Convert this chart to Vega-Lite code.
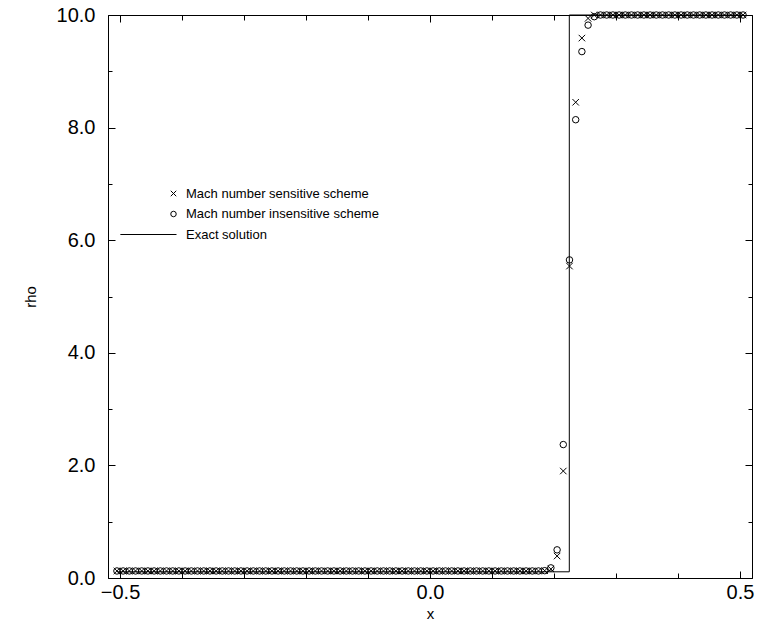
{
  "$schema": "https://vega.github.io/schema/vega-lite/v6.json",
  "width": 644,
  "height": 563,
  "autosize": {"type": "none"},
  "padding": {"left": 108, "top": 15, "right": 9, "bottom": 48},
  "background": "white",
  "config": {
    "font": "Liberation Sans",
    "view": {"stroke": "black", "strokeWidth": 1},
    "axis": {
      "domain": false,
      "grid": false,
      "tickColor": "black",
      "tickWidth": 1,
      "labelColor": "black",
      "labelFont": "Liberation Sans",
      "labelFontSize": 20,
      "titleColor": "black",
      "titleFont": "Liberation Sans",
      "titleFontSize": 15,
      "titleFontWeight": "normal"
    }
  },
  "datasets": {
    "num": [
      {"x": -0.505, "s": 0.125, "i": 0.125}, {"x": -0.495, "s": 0.125, "i": 0.125}, {"x": -0.485, "s": 0.125, "i": 0.125}, {"x": -0.475, "s": 0.125, "i": 0.125}, {"x": -0.465, "s": 0.125, "i": 0.125},
      {"x": -0.455, "s": 0.125, "i": 0.125}, {"x": -0.445, "s": 0.125, "i": 0.125}, {"x": -0.435, "s": 0.125, "i": 0.125}, {"x": -0.425, "s": 0.125, "i": 0.125}, {"x": -0.415, "s": 0.125, "i": 0.125},
      {"x": -0.405, "s": 0.125, "i": 0.125}, {"x": -0.395, "s": 0.125, "i": 0.125}, {"x": -0.385, "s": 0.125, "i": 0.125}, {"x": -0.375, "s": 0.125, "i": 0.125}, {"x": -0.365, "s": 0.125, "i": 0.125},
      {"x": -0.355, "s": 0.125, "i": 0.125}, {"x": -0.345, "s": 0.125, "i": 0.125}, {"x": -0.335, "s": 0.125, "i": 0.125}, {"x": -0.325, "s": 0.125, "i": 0.125}, {"x": -0.315, "s": 0.125, "i": 0.125},
      {"x": -0.305, "s": 0.125, "i": 0.125}, {"x": -0.295, "s": 0.125, "i": 0.125}, {"x": -0.285, "s": 0.125, "i": 0.125}, {"x": -0.275, "s": 0.125, "i": 0.125}, {"x": -0.265, "s": 0.125, "i": 0.125},
      {"x": -0.255, "s": 0.125, "i": 0.125}, {"x": -0.245, "s": 0.125, "i": 0.125}, {"x": -0.235, "s": 0.125, "i": 0.125}, {"x": -0.225, "s": 0.125, "i": 0.125}, {"x": -0.215, "s": 0.125, "i": 0.125},
      {"x": -0.205, "s": 0.125, "i": 0.125}, {"x": -0.195, "s": 0.125, "i": 0.125}, {"x": -0.185, "s": 0.125, "i": 0.125}, {"x": -0.175, "s": 0.125, "i": 0.125}, {"x": -0.165, "s": 0.125, "i": 0.125},
      {"x": -0.155, "s": 0.125, "i": 0.125}, {"x": -0.145, "s": 0.125, "i": 0.125}, {"x": -0.135, "s": 0.125, "i": 0.125}, {"x": -0.125, "s": 0.125, "i": 0.125}, {"x": -0.115, "s": 0.125, "i": 0.125},
      {"x": -0.105, "s": 0.125, "i": 0.125}, {"x": -0.095, "s": 0.125, "i": 0.125}, {"x": -0.085, "s": 0.125, "i": 0.125}, {"x": -0.075, "s": 0.125, "i": 0.125}, {"x": -0.065, "s": 0.125, "i": 0.125},
      {"x": -0.055, "s": 0.125, "i": 0.125}, {"x": -0.045, "s": 0.125, "i": 0.125}, {"x": -0.035, "s": 0.125, "i": 0.125}, {"x": -0.025, "s": 0.125, "i": 0.125}, {"x": -0.015, "s": 0.125, "i": 0.125},
      {"x": -0.005, "s": 0.125, "i": 0.125}, {"x": 0.005, "s": 0.125, "i": 0.125}, {"x": 0.015, "s": 0.125, "i": 0.125}, {"x": 0.025, "s": 0.125, "i": 0.125}, {"x": 0.035, "s": 0.125, "i": 0.125},
      {"x": 0.045, "s": 0.125, "i": 0.125}, {"x": 0.055, "s": 0.125, "i": 0.125}, {"x": 0.065, "s": 0.125, "i": 0.125}, {"x": 0.075, "s": 0.125, "i": 0.125}, {"x": 0.085, "s": 0.125, "i": 0.125},
      {"x": 0.095, "s": 0.125, "i": 0.125}, {"x": 0.105, "s": 0.125, "i": 0.125}, {"x": 0.115, "s": 0.125, "i": 0.125}, {"x": 0.125, "s": 0.125, "i": 0.125}, {"x": 0.135, "s": 0.125, "i": 0.125},
      {"x": 0.145, "s": 0.125, "i": 0.125}, {"x": 0.155, "s": 0.125, "i": 0.125}, {"x": 0.165, "s": 0.125, "i": 0.125}, {"x": 0.175, "s": 0.125, "i": 0.125}, {"x": 0.185, "s": 0.13, "i": 0.13},
      {"x": 0.195, "s": 0.16, "i": 0.18}, {"x": 0.205, "s": 0.39, "i": 0.5}, {"x": 0.215, "s": 1.9, "i": 2.37}, {"x": 0.225, "s": 5.54, "i": 5.65}, {"x": 0.235, "s": 8.45, "i": 8.14},
      {"x": 0.245, "s": 9.59, "i": 9.35}, {"x": 0.255, "s": 9.94, "i": 9.82}, {"x": 0.265, "s": 10.0, "i": 9.97}, {"x": 0.275, "s": 10.0, "i": 10.0}, {"x": 0.285, "s": 10.0, "i": 10.0},
      {"x": 0.295, "s": 10.0, "i": 10.0}, {"x": 0.305, "s": 10.0, "i": 10.0}, {"x": 0.315, "s": 10.0, "i": 10.0}, {"x": 0.325, "s": 10.0, "i": 10.0}, {"x": 0.335, "s": 10.0, "i": 10.0},
      {"x": 0.345, "s": 10.0, "i": 10.0}, {"x": 0.355, "s": 10.0, "i": 10.0}, {"x": 0.365, "s": 10.0, "i": 10.0}, {"x": 0.375, "s": 10.0, "i": 10.0}, {"x": 0.385, "s": 10.0, "i": 10.0},
      {"x": 0.395, "s": 10.0, "i": 10.0}, {"x": 0.405, "s": 10.0, "i": 10.0}, {"x": 0.415, "s": 10.0, "i": 10.0}, {"x": 0.425, "s": 10.0, "i": 10.0}, {"x": 0.435, "s": 10.0, "i": 10.0},
      {"x": 0.445, "s": 10.0, "i": 10.0}, {"x": 0.455, "s": 10.0, "i": 10.0}, {"x": 0.465, "s": 10.0, "i": 10.0}, {"x": 0.475, "s": 10.0, "i": 10.0}, {"x": 0.485, "s": 10.0, "i": 10.0},
      {"x": 0.495, "s": 10.0, "i": 10.0}, {"x": 0.505, "s": 10.0, "i": 10.0}
    ],
    "exact": [
      {"k": 0, "x": -0.505, "rho": 0.11},
      {"k": 1, "x": 0.2247, "rho": 0.11},
      {"k": 2, "x": 0.2247, "rho": 10.0},
      {"k": 3, "x": 0.505, "rho": 10.0}
    ]
  },
  "layer": [
    {
      "data": {"name": "exact"},
      "mark": {"type": "line", "color": "black", "strokeWidth": 1, "interpolate": "linear"},
      "encoding": {
        "x": {"field": "x", "type": "quantitative", "scale": {"domain": [-0.5194, 0.5194], "nice": false, "zero": false},
          "axis": {"orient": "bottom", "values": [-0.5, 0.0, 0.5], "format": ".1f", "tickSize": -7, "labelPadding": 11, "title": "x", "titleY": 35, "titleBaseline": "middle"}},
        "y": {"field": "rho", "type": "quantitative", "scale": {"domain": [0, 10], "nice": false, "zero": false},
          "axis": {"orient": "left", "values": [0, 2, 4, 6, 8, 10], "format": ".1f", "tickSize": -7, "labelPadding": 20, "title": "rho", "titleX": -78, "titleBaseline": "middle", "titleAngle": -90}},
        "order": {"field": "k", "type": "quantitative"}
      }
    },
    {
      "data": {"name": "num"},
      "transform": [{"fold": ["s", "i"], "as": ["series", "val"]}],
      "mark": {"type": "point", "filled": false, "color": "black", "strokeWidth": 1, "size": 42, "opacity": 1},
      "encoding": {
        "x": {"field": "x", "type": "quantitative", "scale": {"domain": [-0.5194, 0.5194], "nice": false, "zero": false},
          "axis": {"orient": "bottom", "values": [-0.5, -0.4, -0.3, -0.2, -0.1, 0.0, 0.1, 0.2, 0.3, 0.4, 0.5], "labels": false, "tickSize": -5, "title": null}},
        "y": {"field": "val", "type": "quantitative", "scale": {"domain": [0, 10], "nice": false, "zero": false},
          "axis": {"orient": "left", "values": [0, 1, 2, 3, 4, 5, 6, 7, 8, 9, 10], "labels": false, "tickSize": -4, "title": null}},
        "shape": {
          "field": "series", "type": "nominal",
          "scale": {"domain": ["s", "i", "e"], "range": ["M-1,-1L1,1M-1,1L1,-1", "circle", "M-19.4,0L1.1,0"]},
          "legend": {
            "title": null, "orient": "none", "legendX": 59, "legendY": 172, "padding": 0,
            "symbolSize": 30, "symbolStrokeColor": "black", "symbolFillColor": "transparent", "symbolStrokeWidth": 1, "symbolOpacity": 1,
            "labelFont": "Liberation Sans", "labelFontSize": 13, "labelColor": "black", "labelOffset": 6, "rowPadding": 6.5, "labelLimit": 400,
            "labelExpr": "datum.value == 's' ? 'Mach number sensitive scheme' : datum.value == 'i' ? 'Mach number insensitive scheme' : 'Exact solution'"
          }
        }
      }
    },
    {
      "data": {"name": "exact"},
      "mark": {"type": "point", "opacity": 0},
      "encoding": {
        "x": {"field": "x", "type": "quantitative", "scale": {"domain": [-0.5194, 0.5194], "nice": false, "zero": false},
          "axis": {"orient": "top", "values": [-0.5, 0.0, 0.5], "labels": false, "tickSize": -7, "title": null}},
        "y": {"field": "rho", "type": "quantitative", "scale": {"domain": [0, 10], "nice": false, "zero": false},
          "axis": {"orient": "right", "values": [0, 2, 4, 6, 8, 10], "labels": false, "tickSize": -7, "title": null}}
      }
    },
    {
      "data": {"name": "exact"},
      "mark": {"type": "point", "opacity": 0},
      "encoding": {
        "x": {"field": "x", "type": "quantitative", "scale": {"domain": [-0.5194, 0.5194], "nice": false, "zero": false},
          "axis": {"orient": "top", "values": [-0.5, -0.4, -0.3, -0.2, -0.1, 0.0, 0.1, 0.2, 0.3, 0.4, 0.5], "labels": false, "tickSize": -5, "title": null}},
        "y": {"field": "rho", "type": "quantitative", "scale": {"domain": [0, 10], "nice": false, "zero": false},
          "axis": {"orient": "right", "values": [0, 1, 2, 3, 4, 5, 6, 7, 8, 9, 10], "labels": false, "tickSize": -4, "title": null}}
      }
    }
  ],
  "resolve": {"axis": {"x": "independent", "y": "independent"}}
}
